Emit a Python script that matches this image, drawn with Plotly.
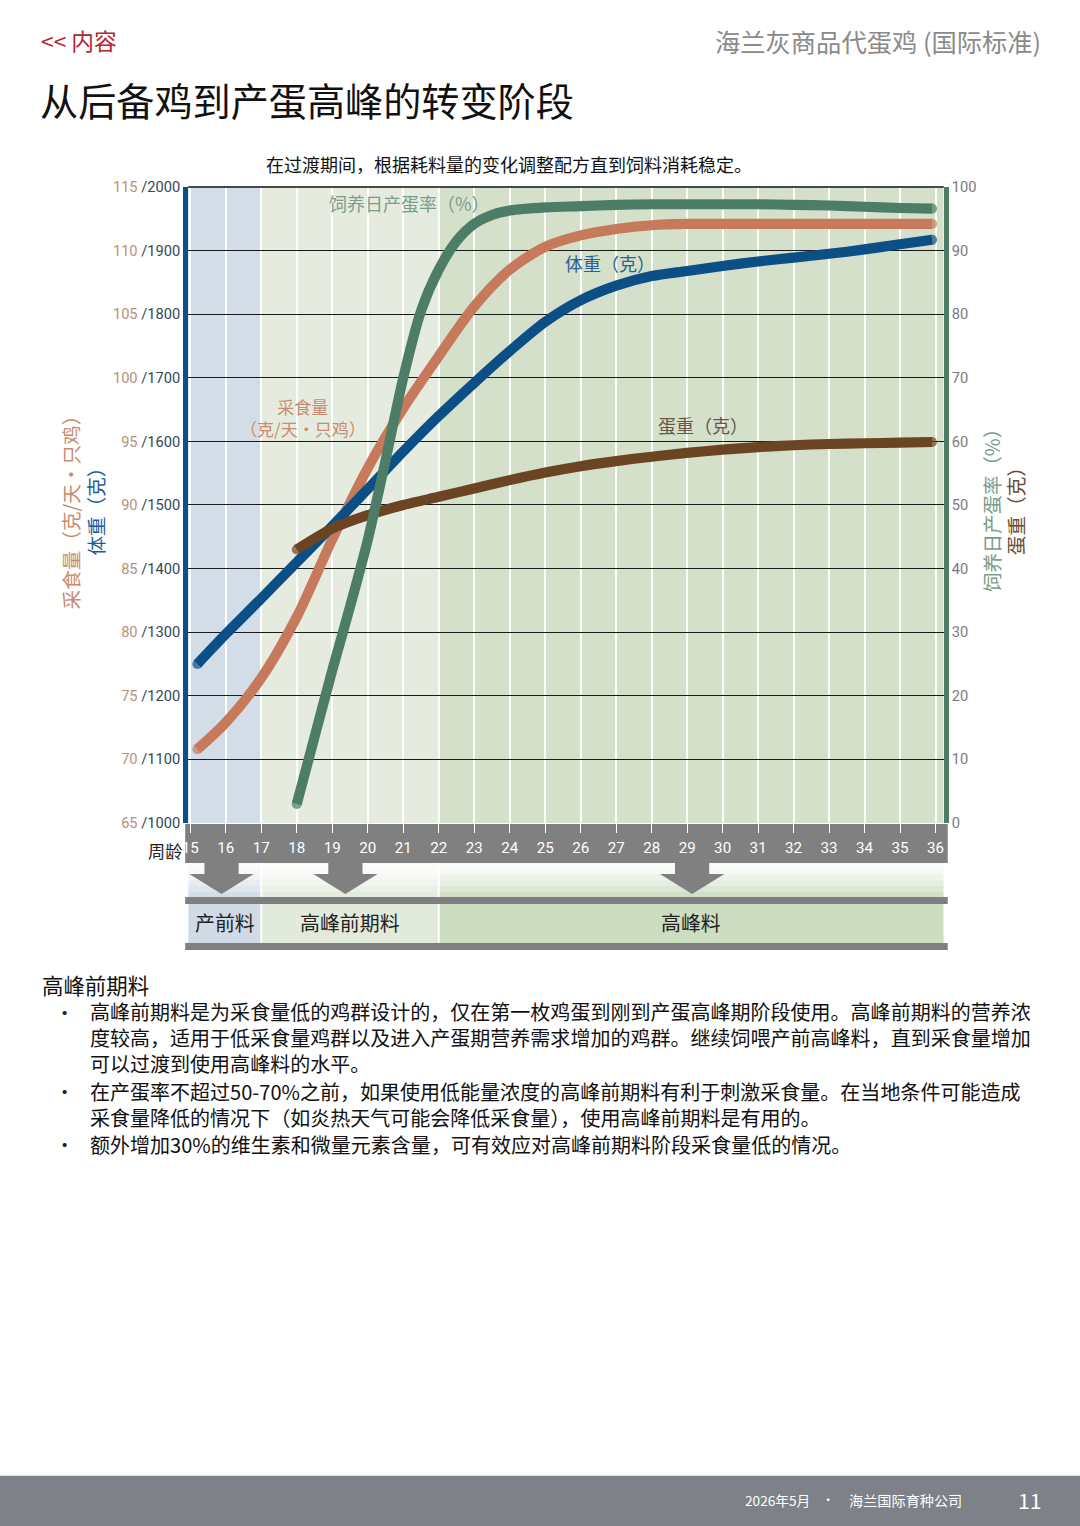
import plotly.graph_objects as go

# Measured page mapping: shown pixel = S * (8 + figure pixel). Work in shown pixels.
S = 0.9885
M = 8
FW, FH = 1086, 1537
def px(x): return (x / S - M) / FW
def py(y): return 1 - (y / S - M) / FH
def fs(n): return round(n / S, 2)

CJK = "Noto Sans CJK SC"
NARROW = "Liberation Sans Narrow, Roboto, sans-serif"

# ---------------- data ----------------
weeks_feed = [15.2, 16, 17, 18, 19, 20, 21, 22, 23, 24, 25, 26, 27, 28, 29, 30, 31, 32, 33, 34, 35, 35.9]
feed = [70.8, 72.9, 76.4, 81.2, 87.3, 92.9, 97.6, 101.7, 105.6, 108.5, 110.3, 111.2, 111.7, 112.0, 112.1,
        112.1, 112.1, 112.1, 112.1, 112.1, 112.1, 112.1]

weeks_bw = [15.2, 16, 17, 18, 19, 20, 21, 22, 23, 24, 25, 26, 27, 28, 29, 30, 31, 32, 33, 34, 35, 35.9]
body_weight = [1250, 1297, 1353, 1410, 1467, 1525, 1584, 1640, 1692, 1742, 1788, 1822, 1845, 1860, 1868,
               1876, 1883, 1889, 1895, 1902, 1910, 1917]

weeks_ep = [18, 18.5, 19, 19.5, 20, 20.5, 21, 21.5, 22, 22.5, 23, 23.5, 24, 25, 26, 27, 28, 29, 30, 31, 32,
            33, 34, 35, 35.9]
egg_prod = [3.0, 13.5, 24.0, 34.0, 44.5, 57.0, 70.0, 80.5, 87.0, 91.5, 94.2, 95.6, 96.3, 96.8, 97.0, 97.2,
            97.3, 97.3, 97.3, 97.3, 97.2, 97.1, 96.9, 96.7, 96.6]

weeks_ew = [18, 19, 20, 21, 22, 23, 24, 25, 26, 27, 28, 29, 30, 31, 32, 33, 34, 35, 35.9]
egg_weight = [43.0, 46.3, 48.4, 50.0, 51.3, 52.6, 53.9, 55.1, 56.1, 56.9, 57.6, 58.2, 58.7, 59.1, 59.4,
              59.6, 59.7, 59.8, 59.9]

week_ticks = list(range(15, 37))
feed_ticks = [65, 70, 75, 80, 85, 90, 95, 100, 105, 110, 115]
bw_ticks = [1000, 1100, 1200, 1300, 1400, 1500, 1600, 1700, 1800, 1900, 2000]
pct_ticks = [0, 10, 20, 30, 40, 50, 60, 70, 80, 90, 100]

phase_names = ["产前料", "高峰前期料", "高峰料"]
phase_start = [14.94, 17, 22]
phase_end = [17, 22, 36.23]
arrow_weeks = [15.88, 19.37, 29.14]

C_GREEN = "#4d7d66"
C_ORANGE = "#c7795c"
C_BLUE = "#0c4f86"
C_BROWN = "#6b4424"

XR = [14.94, 36.23]
X_DOM = [px(189), px(940)]
Y_DOM = [py(822), py(186)]
LW = fs(10)

fig = go.Figure()

def end_markers(n, size=LW):
    s = [0] * n
    s[0] = size
    s[-1] = size
    return s

for xs, ys, ax, col in [(weeks_ew, egg_weight, "y3", C_BROWN), (weeks_ep, egg_prod, "y3", C_GREEN),
                        (weeks_feed, feed, "y", C_ORANGE), (weeks_bw, body_weight, "y2", C_BLUE)]:
    fig.add_trace(go.Scatter(x=xs, y=ys, yaxis=ax, mode="lines+markers",
                             line=dict(color=col, width=LW, shape="spline", smoothing=0.8),
                             marker=dict(size=end_markers(len(xs)), color=col, line=dict(width=0)),
                             hoverinfo="skip"))

left_ticktext = [f"<span style='color:#b88f7b'>{f}</span><span style='color:#34465a'> /{b}</span>"
                 for f, b in zip(feed_ticks, bw_ticks)]

shapes = []
bg_cols = ["#d3dde8", "#e5ecdf", "#d4e0c9"]
for x0, x1, c in zip(phase_start, phase_end, bg_cols):
    shapes.append(dict(type="rect", xref="x", yref="paper", x0=x0, x1=x1, y0=py(822), y1=py(186),
                       fillcolor=c, line=dict(width=0), layer="below"))
# top border
shapes.append(dict(type="line", xref="paper", yref="paper", x0=px(189), x1=px(940), y0=py(186), y1=py(186),
                   line=dict(color="#111", width=1.5)))
# week band
shapes.append(dict(type="rect", xref="paper", yref="paper", x0=px(186), x1=px(944), y0=py(862), y1=py(823),
                   fillcolor="#808080", line=dict(width=0), layer="below"))
# gradient zone under band
grad_cols = ["208,219,230", "226,234,220", "205,221,194"]
for x0, x1, rgb in zip(phase_start, phase_end, grad_cols):
    nb = 6
    for i in range(nb):
        ya = 862 + i * (34 / nb)
        yb = ya + 34 / nb
        op = 0.12 + 0.8 * (i / (nb - 1)) ** 1.5
        shapes.append(dict(type="rect", xref="x", yref="paper", x0=max(x0, 14.86), x1=min(x1, 36.32),
                           y0=py(yb), y1=py(ya), fillcolor=f"rgba({rgb},{op:.2f})", line=dict(width=0),
                           layer="below"))
    shapes.append(dict(type="rect", xref="x", yref="paper", x0=max(x0, 14.86), x1=min(x1, 36.32),
                       y0=py(943), y1=py(902), fillcolor=f"rgb({rgb})", line=dict(width=0), layer="below"))
# separators in label row
for xs in [17, 22]:
    shapes.append(dict(type="line", xref="x", yref="paper", x0=xs, x1=xs, y0=py(943), y1=py(862),
                       line=dict(color="white", width=2), layer="below"))
# gray bars
shapes.append(dict(type="rect", xref="paper", yref="paper", x0=px(186), x1=px(944), y0=py(903), y1=py(896),
                   fillcolor="#7f7f7f", line=dict(width=0)))
shapes.append(dict(type="rect", xref="paper", yref="paper", x0=px(186), x1=px(944), y0=py(949), y1=py(942),
                   fillcolor="#7f7f7f", line=dict(width=0)))
# arrows
hs, hh = 17 / 35.29, 32 / 35.29
for aw in arrow_weeks:
    path = (f"M {aw-hs},{py(861)} L {aw+hs},{py(861)} L {aw+hs},{py(873)} L {aw+hh},{py(873)} "
            f"L {aw},{py(893)} L {aw-hh},{py(873)} L {aw-hs},{py(873)} Z")
    shapes.append(dict(type="path", xref="x", yref="paper", path=path, fillcolor="#808080",
                       line=dict(width=0)))
# footer (full bleed)
shapes.append(dict(type="rect", xref="paper", yref="paper", x0=-0.02, x1=1.02, y0=-0.02, y1=py(1475),
                   fillcolor="#7e8187", line=dict(width=0)))

ann = []
def T(x, y, text, size, color, xa="left", ya="middle", font=CJK, angle=0, align="left"):
    ann.append(dict(x=px(x), y=py(y), xref="paper", yref="paper", text=text, showarrow=False,
                    xanchor=xa, yanchor=ya, textangle=angle, align=align,
                    font=dict(family=font, size=fs(size), color=color)))

T(41, 39, "<< 内容", 22.5, "#b3262e")
T(1039, 40, "海兰灰商品代蛋鸡 (国际标准)", 25, "#8a8a8a", xa="right")
T(40, 98, "从后备鸡到产蛋高峰的转变阶段", 37.7, "#111")
T(508, 163, "在过渡期间，根据耗料量的变化调整配方直到饲料消耗稳定。", 17.8, "#111", xa="center")

# in-plot labels
T(409, 202, "饲养日产蛋率（%）", 17.8, "#7d9c8a", xa="center")
T(303, 416.5, "采食量<br>（克/天・只鸡）", 16.8, "#c98b6f", xa="center", align="center")
T(608, 262, "体重（克）", 17.8, "#28609a", xa="center")
T(701, 424, "蛋重（克）", 17.8, "#65584a", xa="center")

# axis titles
T(73, 506, "采食量（克/天・只鸡）", 19.4, "#c98b6f", xa="center", angle=-90)
T(97, 506, "体重（克）", 19.4, "#1f5d9a", xa="center", angle=-90)
T(988, 505, "饲养日产蛋率（%）", 19.2, "#7a9c88", xa="center", angle=-90)
T(1012, 505, "蛋重（克）", 19.4, "#6d4b32", xa="center", angle=-90)

T(147, 850, "周龄", 17, "#222")

# phase labels
for x0, x1, name in zip(phase_start, phase_end, phase_names):
    xm = (max(x0, 14.86) + min(x1, 36.32)) / 2
    ann.append(dict(x=xm, y=py(922), xref="x", yref="paper", text=name, showarrow=False,
                    xanchor="center", yanchor="middle", font=dict(family=CJK, size=fs(19.7), color="#222")))

# body text
T(42, 984, "高峰前期料", 21.2, "#111")
paragraphs = [
    (1037, ["高峰前期料是为采食量低的鸡群设计的，仅在第一枚鸡蛋到刚到产蛋高峰期阶段使用。高峰前期料的营养浓",
            "度较高，适用于低采食量鸡群以及进入产蛋期营养需求增加的鸡群。继续饲喂产前高峰料，直到采食量增加",
            "可以过渡到使用高峰料的水平。"], 1012),
    (1104, ["在产蛋率不超过50-70%之前，如果使用低能量浓度的高峰前期料有利于刺激采食量。在当地条件可能造成",
            "采食量降低的情况下（如炎热天气可能会降低采食量），使用高峰前期料是有用的。"], 1091),
    (1144, ["额外增加30%的维生素和微量元素含量，可有效应对高峰前期料阶段采食量低的情况。"], 1144),
]
for yc, lines, ybul in paragraphs:
    T(66, ybul, "•", 19, "#222", xa="center")
    T(89, yc, "<br>".join(lines), 19.8, "#111")

# footer text
T(740, 1499, "2026年5月", 13.5, "#ffffff")
T(825, 1499, "•", 12, "#ffffff", xa="center")
T(844, 1499, "海兰国际育种公司", 14, "#ffffff")
T(1026, 1499, "11", 21, "#ffffff", xa="center")

fig.update_layout(
    width=FW, height=FH, margin=dict(l=0, r=0, t=0, b=0),
    paper_bgcolor="white", plot_bgcolor="rgba(0,0,0,0)",
    showlegend=False, shapes=shapes, annotations=ann,
    xaxis=dict(domain=X_DOM, range=XR, tickvals=week_ticks, ticks="outside", ticklen=9, tickwidth=1,
               tickcolor="white", tickfont=dict(family=NARROW, size=fs(15), color="white"),
               ticklabelstandoff=2,
               showgrid=True, gridcolor="rgba(255,255,255,0.95)", gridwidth=1.5, zeroline=False,
               showline=False, fixedrange=True),
    yaxis=dict(domain=Y_DOM, range=[65, 115], tickvals=feed_ticks, ticktext=left_ticktext,
               tickfont=dict(family=NARROW, size=fs(14.5)), showline=True, linecolor=C_BLUE, linewidth=5,
               showgrid=True, gridcolor="#1a1a1a", gridwidth=1.2, zeroline=False, ticks="",
               ticklabelstandoff=0, anchor="x"),
    yaxis2=dict(domain=Y_DOM, range=[1000, 2000], overlaying="y", visible=False, anchor="x"),
    yaxis3=dict(domain=Y_DOM, range=[0, 100], overlaying="y", side="right", anchor="x",
                tickvals=pct_ticks, tickfont=dict(family=NARROW, size=fs(14.5), color="#7a7a7a"),
                showline=True, linecolor=C_GREEN, linewidth=5, showgrid=False, zeroline=False,
                ticks="", ticklabelstandoff=0),
)

fig.write_html("out.html")
